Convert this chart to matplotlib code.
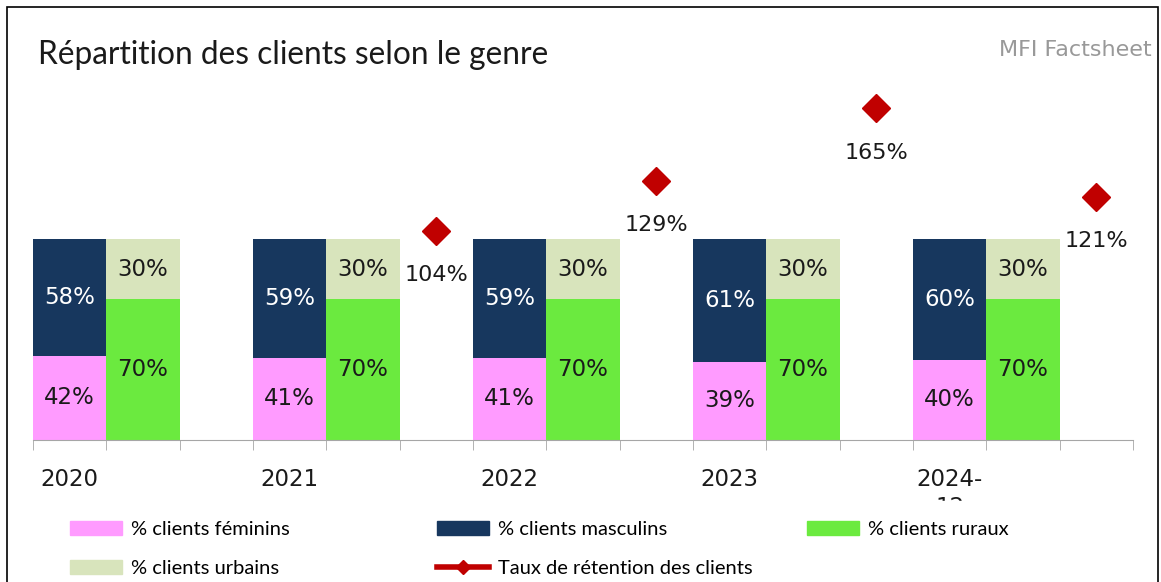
import numpy as np
import matplotlib
matplotlib.use('Agg')
import matplotlib.pyplot as plt
from matplotlib.patches import Rectangle, Patch
from matplotlib.lines import Line2D

years = ['2020', '2021', '2022', '2023', '2024-12']
feminins = [42, 41, 41, 39, 40]
masculins = [58, 59, 59, 61, 60]
ruraux = [70, 70, 70, 70, 70]
urbains = [30, 30, 30, 30, 30]
retention = [np.nan, 104, 129, 165, 121]

PINK = '#FF9BFF'
NAVY = '#17375E'
GREEN = '#6BEA3F'
LIGHTGREEN = '#D8E4BC'
RED = '#C00000'
GREY = '#A6A6A6'

if __name__ == '__main__':
    fig = plt.figure(figsize=(11.61, 5.82), dpi=100)
    ax = fig.add_axes([33 / 1161, 1 - 440 / 582, 1100 / 1161, 362 / 582])

    x = np.arange(len(years)) * 3
    b1 = ax.bar(x + 0.5, feminins, width=1.0, color=PINK)
    b2 = ax.bar(x + 0.5, masculins, width=1.0, bottom=feminins, color=NAVY)
    b3 = ax.bar(x + 1.5, ruraux, width=1.0, color=GREEN)
    b4 = ax.bar(x + 1.5, urbains, width=1.0, bottom=ruraux, color=LIGHTGREEN)
    ax.plot(x + 2.5, retention, ls='none', marker='D', ms=14, color=RED, zorder=3)

    lab = dict(label_type='center', fontsize=16.5, family='DejaVu Sans')
    ax.bar_label(b1, labels=[f'{v}%' for v in feminins], color='#1a1a1a', **lab)
    ax.bar_label(b2, labels=[f'{v}%' for v in masculins], color='white', **lab)
    ax.bar_label(b3, labels=[f'{v}%' for v in ruraux], color='#1a1a1a', **lab)
    ax.bar_label(b4, labels=[f'{v}%' for v in urbains], color='#1a1a1a', **lab)

    for xi, v in zip(x + 2.5, retention):
        if np.isnan(v):
            continue
        ax.annotate(f'{v:.0f}%', (xi, v), xytext=(0, -32), textcoords='offset points',
                    ha='center', va='center', fontsize=16, color='#1a1a1a')

    ax.set_xlim(0, 15)
    ax.set_ylim(0, 180)
    ax.set_yticks([])
    for s in ['left', 'top', 'right']:
        ax.spines[s].set_visible(False)
    ax.spines['bottom'].set_color(GREY)
    ax.set_xticks(x + 0.5, labels=[y.replace('-', '-\n') for y in years])
    ax.set_xticks(np.arange(16), minor=True)
    ax.tick_params(axis='x', which='major', length=0, pad=20, labelsize=16.5,
                   labelcolor='#1a1a1a')
    ax.tick_params(axis='x', which='minor', length=7, color=GREY)
    for t in ax.get_xticklabels():
        t.set_linespacing(1.3)

    fig.text(38 / 1161, 1 - 55 / 582, 'Répartition des clients selon le genre',
             family='Lato', fontsize=22.8, va='center', ha='left', color='#1a1a1a')
    fig.text(1152 / 1161, 1 - 50 / 582, 'MFI Factsheet', family='DejaVu Sans',
             fontsize=16, color='#999999', va='center', ha='right')

    # hide the wrapped part of the last year label like the original
    fig.add_artist(Rectangle((850 / 1161, 0), 200 / 1161, 1 - 501 / 582,
                             transform=fig.transFigure, color='white', zorder=2))

    leg_kw = dict(loc='upper left', frameon=False, handlelength=2.6,
                  handleheight=0.7, handletextpad=0.45, labelspacing=1.1,
                  borderpad=0, borderaxespad=0, prop={'family': 'Lato', 'size': 14.5})
    ret_handle = Line2D([], [], color=RED, lw=4, marker='D', ms=7)
    top = 1 - 521 / 582
    l1 = fig.legend([Patch(color=PINK), Patch(color=LIGHTGREEN)],
                    ['% clients féminins', '% clients urbains'],
                    bbox_to_anchor=(70 / 1161, top), **leg_kw)
    l2 = fig.legend([Patch(color=NAVY), ret_handle],
                    ['% clients masculins', 'Taux de rétention des clients'],
                    bbox_to_anchor=(437 / 1161, top), **leg_kw)
    l3 = fig.legend([Patch(color=GREEN)], ['% clients ruraux'],
                    bbox_to_anchor=(807 / 1161, top), **leg_kw)
    for l in (l1, l2, l3):
        l.set_zorder(3)

    fig.add_artist(Rectangle((7 / 1161, -0.01), 1151 / 1161, 1.01 - 7 / 582,
                             transform=fig.transFigure, fill=False, edgecolor='black',
                             lw=1.2, zorder=4))

    fig.savefig('out.png', dpi=100)
